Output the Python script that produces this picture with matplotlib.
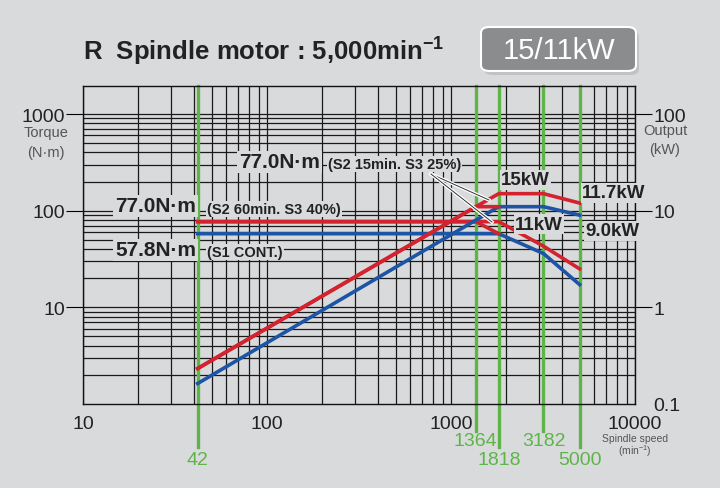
import matplotlib.pyplot as plt
import matplotlib.patheffects as pe
from matplotlib.patches import FancyBboxPatch
from matplotlib.ticker import NullFormatter

BG = '#d9dadc'
RED = '#d3232f'
BLUE = '#1c54a6'
GREEN = '#5db548'
INK = '#222222'

plt.rcParams['font.family'] = ['Liberation Sans', 'DejaVu Sans']
plt.rcParams['mathtext.fontset'] = 'custom'
plt.rcParams['mathtext.rm'] = 'Liberation Sans'
plt.rcParams['mathtext.bf'] = 'Liberation Sans:bold'
plt.rcParams['mathtext.default'] = 'regular'

# marked speeds (green lines)
marked_speeds = [42, 1364, 1818, 3182, 5000]
marked_low = [True, False, True, False, True]   # label drawn lower

# S1 continuous (blue)
s1_torque_speed = [42, 1818, 3182, 5000]
s1_torque = [57.8, 57.8, 36, 17.2]
s1_power_speed = [42, 1818, 3182, 5000]
s1_power = [0.163, 11, 11, 9.0]

# S2 60min (red)
s2_60_speed = [42, 1364, 1818]
s2_60_torque = [77.0, 77.0, 57.8]
s2_60_power = [0.233, 11, 11]

# S2 15min (red)
s2_15_torque_speed = [42, 1818, 3182, 5000]
s2_15_torque = [77.0, 77.0, 43, 25]
s2_15_power_speed = [42, 1364, 1818, 3182, 5000]
s2_15_power = [0.233, 11, 15, 15, 12]

W, H = 720, 489


def px(x, y):
    return x / W, 1 - y / H


fig = plt.figure(figsize=(7.2, 4.89), dpi=100, facecolor=BG)
ax = fig.add_axes([83 / W, 1 - 405 / H, 552 / W, 318 / H])
ax.set_facecolor(BG)
ax.set_xscale('log')
ax.set_yscale('log')
ax.set_xlim(10, 10000)
ax.set_ylim(1, 1950)

ax.grid(True, which='both', color='#1a1a1a', lw=0.9, zorder=1)
ax.set_axisbelow(True)

ax.set_xticks([10, 100, 1000, 10000])
ax.set_xticklabels(['10', '100', '1000', '10000'])
ax.set_yticks([10, 100, 1000])
ax.set_yticklabels(['10', '100', '1000'])
ax.xaxis.set_minor_formatter(NullFormatter())
ax.yaxis.set_minor_formatter(NullFormatter())
ax.tick_params(axis='x', which='both', length=0, pad=8, labelsize=14, labelcolor=INK)
ax.tick_params(axis='y', which='major', direction='out', length=12, width=0.8,
               pad=1, labelsize=14, labelcolor=INK)
ax.tick_params(axis='y', which='minor', length=0)
for s in ax.spines.values():
    s.set_color('#111111')
    s.set_linewidth(1.0)

# green speed markers
trans = ax.get_xaxis_transform()
for sp, low in zip(marked_speeds, marked_low):
    ymin = -0.135 if low else -0.085
    ax.axvline(sp, ymin=ymin, ymax=1, color=GREEN, lw=2.4, clip_on=False, zorder=2)
    ax.text(sp, -0.175 if low else -0.115, str(sp), transform=trans, color=GREEN,
            ha='center', va='center', fontsize=14)

# torque curves
ax.plot(s1_torque_speed, s1_torque, color=BLUE, lw=2.6, zorder=3)
ax.plot(s2_60_speed, s2_60_torque, color=RED, lw=2.6, zorder=3)
ax.plot(s2_15_torque_speed, s2_15_torque, color=RED, lw=2.6, zorder=3)

# output axis
ax2 = ax.twinx()
ax2.set_yscale('log')
ax2.set_ylim(0.1, 195)
ax2.set_yticks([0.1, 1, 10, 100])
ax2.set_yticklabels(['0.1', '1', '10', '100'])
ax2.yaxis.set_minor_formatter(NullFormatter())
ax2.tick_params(axis='y', which='major', direction='out', length=12, width=0.8,
                pad=1, labelsize=14, labelcolor=INK)
ax2.tick_params(axis='y', which='minor', length=0)
ax2.yaxis.get_major_ticks()[0].tick2line.set_visible(False)
for s in ax2.spines.values():
    s.set_visible(False)

ax2.plot(s1_power_speed, s1_power, color=BLUE, lw=2.6, zorder=3)
ax2.plot(s2_60_speed, s2_60_power, color=RED, lw=2.6, zorder=3)
ax2.plot(s2_15_power_speed, s2_15_power, color=RED, lw=2.6, zorder=3)

# axis captions
cap = dict(ha='center', va='center', fontsize=10.5, color='#555555')
fig.text(*px(46, 133), 'Torque', **cap)
fig.text(*px(46, 153), '(N·m)', **cap)
fig.text(*px(665, 131), 'Output', **cap)
fig.text(*px(665, 150), '(kW)', **cap)
fig.text(*px(635, 439), 'Spindle speed', ha='center', va='center', fontsize=7.5,
         color='#555555')
fig.text(*px(635, 451), '(min$^{-1}$)', ha='center', va='center', fontsize=7.5,
         color='#555555')

# title and badge
fig.text(*px(83, 52), 'R  Spindle motor : 5,000min$^{-1}$', ha='left', va='center',
         fontsize=18.5, fontweight='bold', color=INK)
shadow = FancyBboxPatch(px(484, 76), 155 / W, 44 / H, transform=fig.transFigure,
                        boxstyle='round,pad=0,rounding_size=0.012',
                        fc='#b8b9bb', ec='none', alpha=0.7)
fig.add_artist(shadow)
badge = FancyBboxPatch(px(481, 72), 155 / W, 44 / H, transform=fig.transFigure,
                       boxstyle='round,pad=0,rounding_size=0.012',
                       fc='#8a8c8e', ec='white', lw=1.5)
fig.add_artist(badge)
fig.text(*px(559, 51), '15/11kW', ha='center', va='center', fontsize=21, color='white')

# annotations
box = dict(boxstyle='square,pad=0.08', fc=BG, ec='none')
big = dict(fontsize=15, fontweight='bold', color=INK, va='center', ha='left', bbox=box)
kw = dict(fontsize=13.5, fontweight='bold', color=INK, va='center', ha='left', bbox=box)
small = dict(fontsize=10.5, fontweight='bold', color=INK, va='center', ha='left', bbox=box)

fig.text(*px(239, 163), '77.0N·m', **big)
fig.text(*px(328, 165), '(S2 15min. S3 25%)', **small)
fig.text(*px(115, 207), '77.0N·m', **big)
fig.text(*px(207, 210), '(S2 60min. S3 40%)', **small)
fig.text(*px(115, 251), '57.8N·m', **big)
fig.text(*px(207, 253), '(S1 CONT.)', **small)
fig.text(*px(501, 181), '15kW', **kw)
fig.text(*px(515, 225), '11kW', **kw)
fig.text(*px(582, 194), '11.7kW', **kw)
fig.text(*px(585, 232), '9.0kW', **kw)

# leader lines to S2 15min curves
halo = [pe.Stroke(linewidth=2.5, foreground='white'), pe.Normal()]
for end in [(489, 201), (492, 223)]:
    x0, y0 = px(431, 175)
    x1, y1 = px(*end)
    fig.add_artist(plt.Line2D([x0, x1], [y0, y1], transform=fig.transFigure,
                              color='#333333', lw=0.7, path_effects=halo, zorder=5))

fig.savefig('out.png', dpi=100, facecolor=BG)
